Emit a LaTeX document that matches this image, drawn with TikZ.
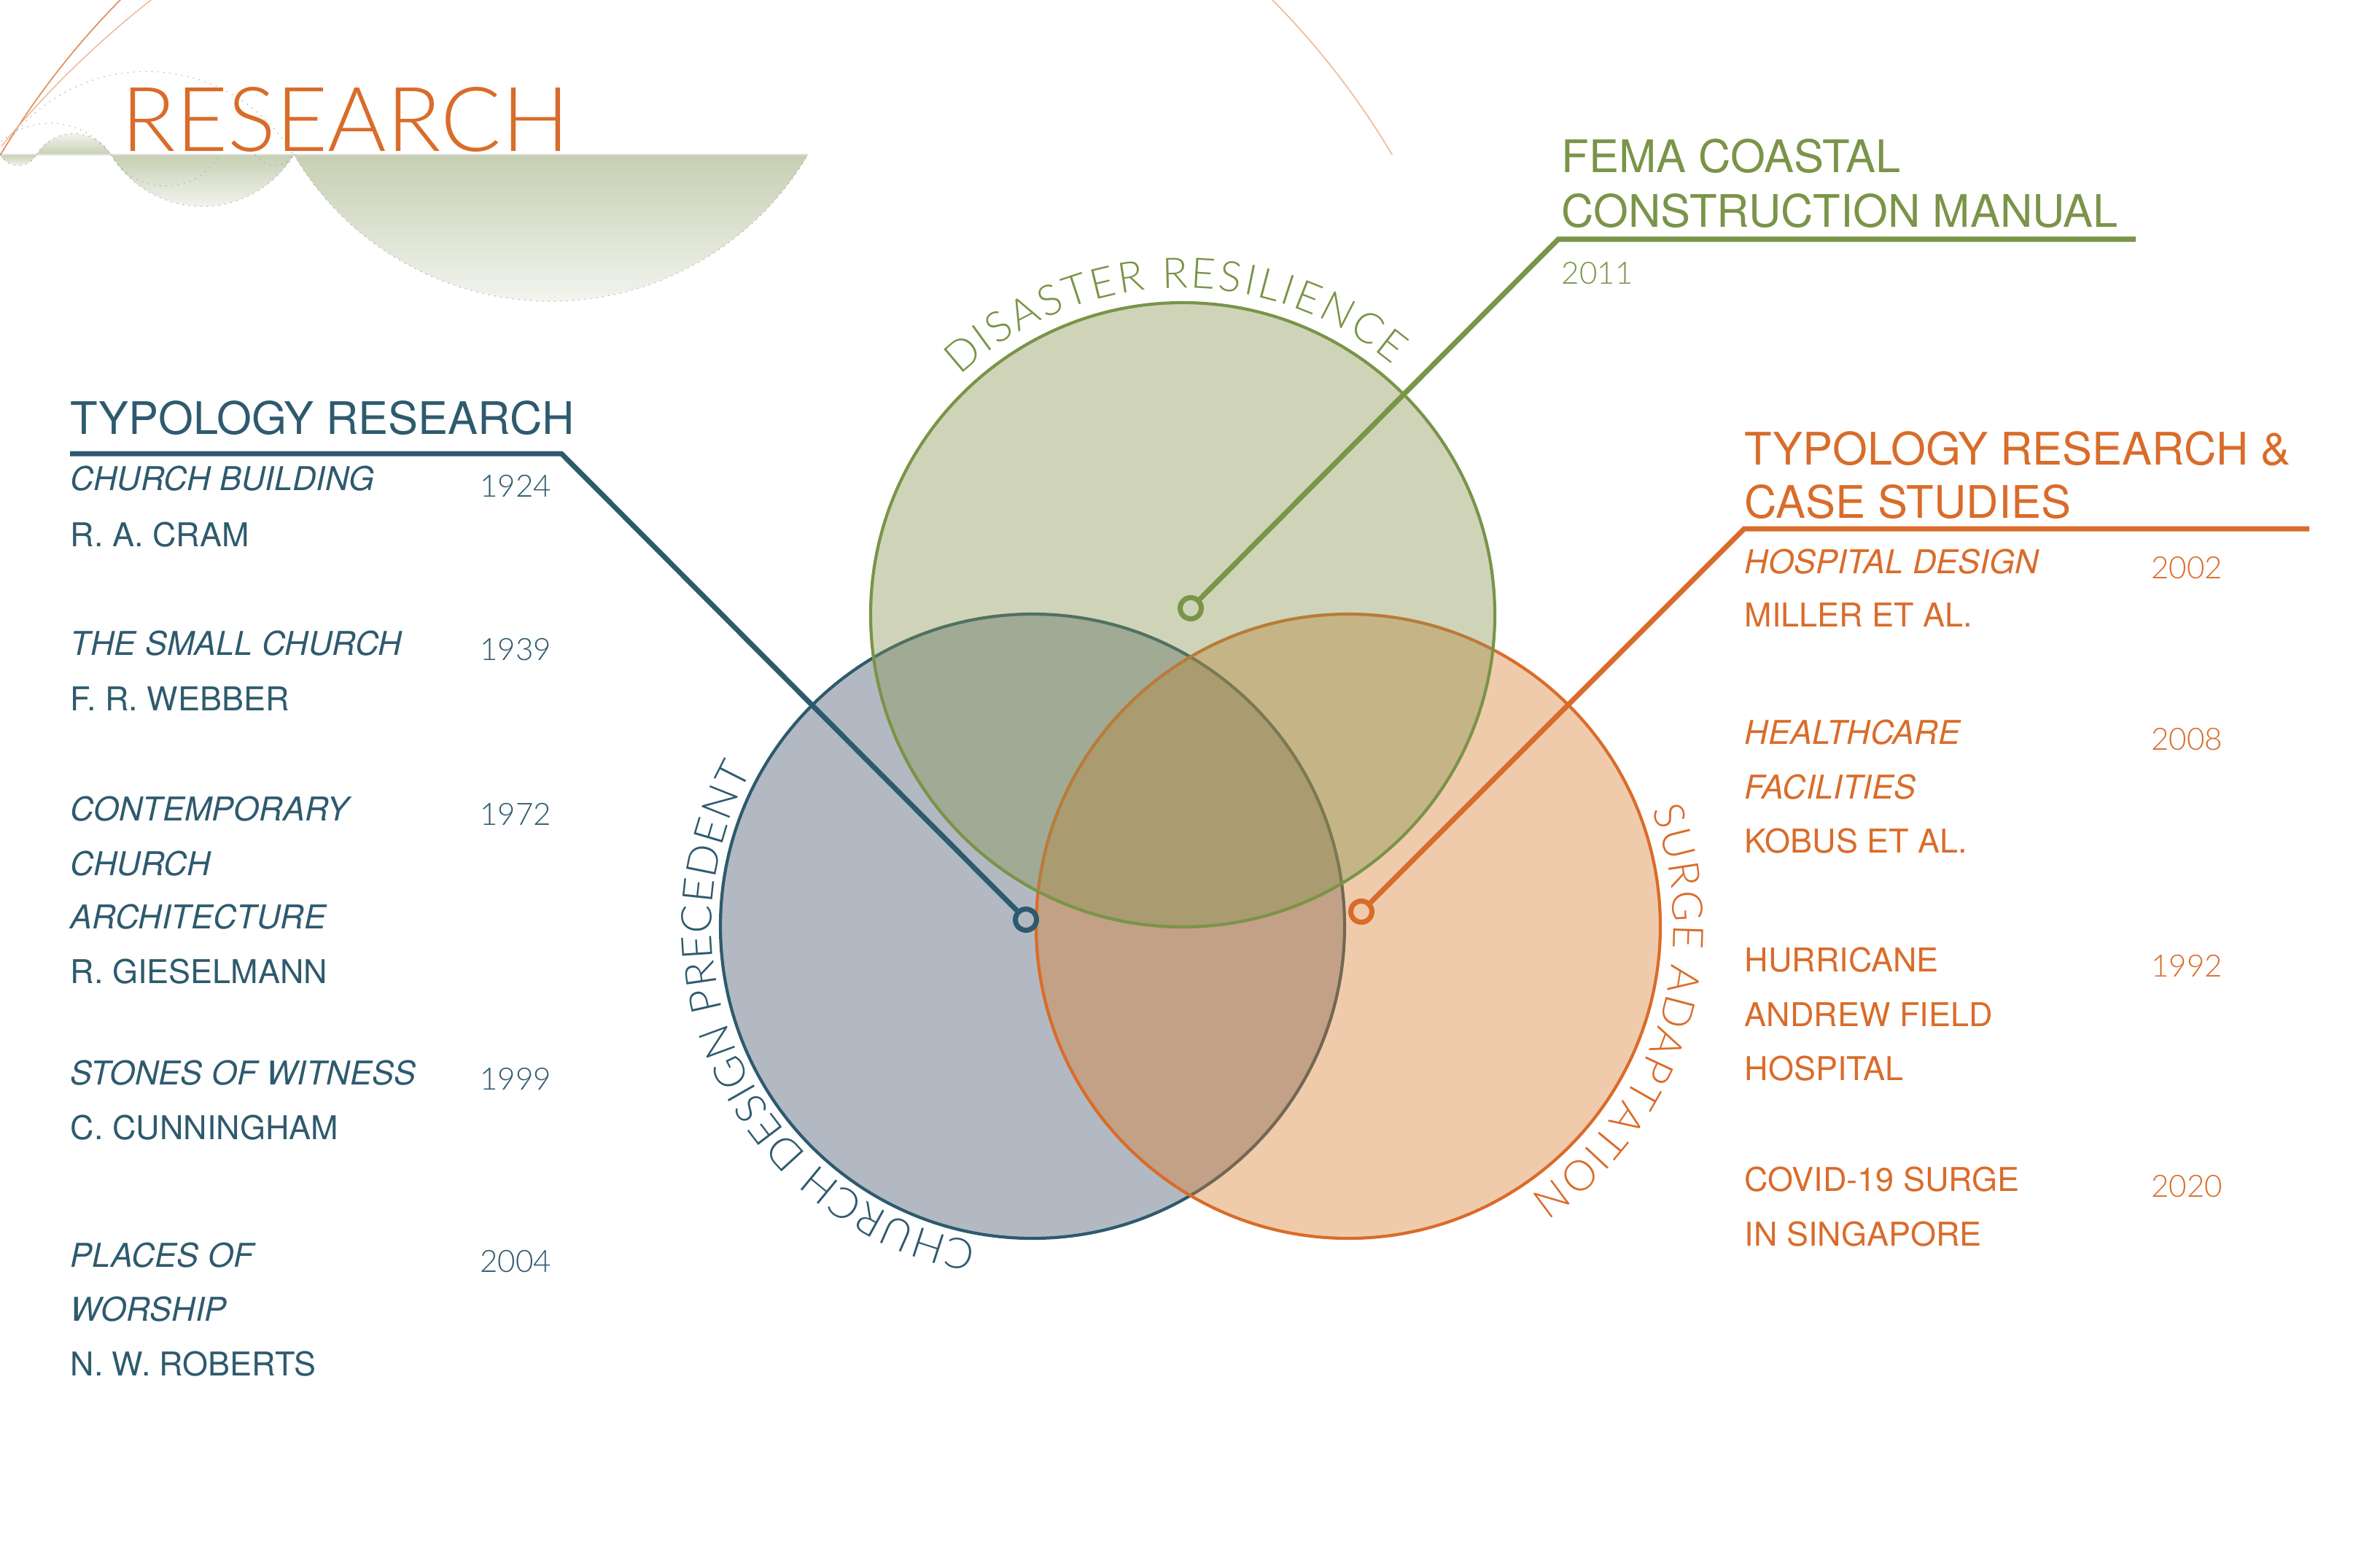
\documentclass[tikz,border=0pt]{standalone}
\usepackage{fontspec}
\setmainfont{TeX Gyre Heros}
\IfFontExistsTF{Lato Light}{\newfontfamily\thinfont{Lato Light}}{\newfontfamily\thinfont{Lato}}
\usepackage{pgf,tikz}
\usetikzlibrary{calc,backgrounds,decorations.text}

\definecolor{dblue}{HTML}{2E5A6E}
\definecolor{dgreen}{HTML}{7A9448}
\definecolor{dorange}{HTML}{D96C2A}
\definecolor{bluefill}{HTML}{3F5069}
\definecolor{greenfill}{HTML}{879450}
\definecolor{orangefill}{HTML}{D97D2D}
\definecolor{wavegreen}{HTML}{C6CFB2}

\begin{document}
\begin{tikzpicture}
  \useasboundingbox (0,0) rectangle (32.64,-21.12);

  \tikzstyle{every node}=[inner sep=0pt]
  \tikzstyle{heading}=[anchor=base west,font=\fontsize{17.5}{21}\selectfont]
  \tikzstyle{book}=[anchor=base west,font=\fontsize{12.8}{15}\selectfont\itshape]
  \tikzstyle{auth}=[anchor=base west,font=\fontsize{12.8}{15}\selectfont]
  \tikzstyle{year}=[anchor=base east,font=\thinfont\fontsize{12}{14}\selectfont]
  \tikzstyle{venn}=[circle,minimum size=8.56cm,line width=1.2pt,fill opacity=.4,draw opacity=1]
  \tikzstyle{ring}=[circle,draw,minimum size=.29cm,line width=2pt]
  \tikzstyle{lead}=[line width=2pt,line join=miter]
  \tikzstyle{arclabel}=[decorate,decoration={text along path,text align=fit to path}]
  \tikzstyle{wavedots}=[line width=.35pt,dotted,gray!70]

  %% bandeau du titre
  \begin{scope}
    \clip (0,0) rectangle (32.64,-21.12);
    \shade[top color=wavegreen,bottom color=white] (0,-2.12) arc[start angle=208,end angle=332,radius=.283] -- cycle;
    \shade[top color=white,bottom color=wavegreen] (0.50,-2.12) arc[start angle=149.3,end angle=30.7,radius=.593] -- cycle;
    \shade[top color=wavegreen,bottom color=white] (1.52,-2.12) arc[start angle=211,end angle=329,radius=1.464] -- cycle;
    \shade[top color=wavegreen,bottom color=white] (4.03,-2.12) arc[start angle=210.6,end angle=329.4,radius=4.096] -- cycle;
    \draw[gray!25,line width=.6pt] (0,-2.12) -- (11.08,-2.12);
    \draw[wavedots] (0,-2.12) arc[start angle=208,end angle=332,radius=.283];
    \draw[wavedots] (0.50,-2.12) arc[start angle=149.3,end angle=30.7,radius=.593];
    \draw[wavedots] (1.52,-2.12) arc[start angle=211,end angle=329,radius=1.464];
    \draw[wavedots] (4.03,-2.12) arc[start angle=210.6,end angle=329.4,radius=4.096];
    \draw[wavedots] (2.01,-3.32) ++(149:2.34) arc[start angle=149,end angle=31,radius=2.34];
    \draw[wavedots] (0.685,-2.705) ++(145:1.015) arc[start angle=145,end angle=35,radius=1.015];
    \draw[wavedots] (2.27,-1.68) ++(210.4:.869) arc[start angle=210.4,end angle=329.6,radius=.869];
    \draw[wavedots] (3.765,-1.96) ++(211:.309) arc[start angle=211,end angle=329,radius=.309];
    \draw[dorange!75,line width=.5pt] (9.55,-7.81) ++(149.2:11.11) arc[start angle=149.2,end angle=134,radius=11.11];
    \draw[dorange!45,line width=.5pt] (9.55,-7.81) ++(46:11.11) arc[start angle=46,end angle=30.8,radius=11.11];
    \draw[dorange!50,line width=.4pt] (10.30,-10.48) ++(140.5:13.325) arc[start angle=140.5,end angle=128,radius=13.325];
  \end{scope}
  \node[anchor=base west,font=\thinfont\fontsize{35}{40}\selectfont,text=dorange] (R0) at (1.66,-2.07) {RESEARCH};

  %% les trois cercles
  \node[venn,draw=dblue,fill=bluefill] (V1) at (14.16,-12.70) {};
  \node[venn,draw=dorange,fill=orangefill] (V3) at (18.49,-12.70) {};
  \node[venn,draw=dgreen,fill=greenfill] (V2) at (16.22,-8.43) {};

  \path[arclabel,decoration={text={|\thinfont\fontsize{16.5}{20}\selectfont|DISASTER RESILIENCE},text color=dgreen}]
    (V2.center) ++(133:4.48) arc[start angle=133,end angle=50,radius=4.48];
  \path[arclabel,decoration={text={|\thinfont\fontsize{16.5}{20}\selectfont|CHURCH DESIGN PRECEDENT},text color=dblue}]
    (V1.center) ++(260:4.40) arc[start angle=260,end angle=151,radius=4.40];
  \path[arclabel,decoration={text={|\thinfont\fontsize{16.5}{20}\selectfont|SURGE ADAPTATION},text color=dorange}]
    (V3.center) ++(21:4.46) arc[start angle=21,end angle=-56,radius=4.46];

  %% renvois
  \coordinate (U1) at (0.96,-6.22);
  \coordinate (C1) at (7.70,-6.22);
  \coordinate (U2) at (29.29,-3.28);
  \coordinate (C2) at (21.37,-3.28);
  \coordinate (U3) at (31.67,-7.25);
  \coordinate (C3) at (23.92,-7.25);
  \node[ring,draw=dblue] (D1) at (14.07,-12.61) {};
  \node[ring,draw=dgreen] (D2) at (16.33,-8.34) {};
  \node[ring,draw=dorange] (D3) at (18.67,-12.50) {};
  \draw[lead,dblue] (U1) -- (C1) -- (D1);
  \draw[lead,dgreen] (U2) -- (C2) -- (D2);
  \draw[lead,dorange] (U3) -- (C3) -- (D3);

  %% colonne gauche
  \node[heading,text=dblue] (H1) at (0.96,-5.95) {TYPOLOGY RESEARCH};
  \foreach \y/\t [count=\i] in {6.72/CHURCH BUILDING, 8.98/THE SMALL CHURCH,
    11.25/CONTEMPORARY, 12.00/CHURCH, 12.73/ARCHITECTURE,
    14.87/STONES OF WITNESS, 17.37/PLACES OF, 18.11/WORSHIP}
    \node[book,text=dblue] (L\i) at (0.96,-\y) {\t};
  \foreach \y/\t [count=\i] in {7.49/R. A. CRAM, 9.74/F. R. WEBBER,
    13.48/R. GIESELMANN, 15.62/C. CUNNINGHAM, 18.86/N. W. ROBERTS}
    \node[auth,text=dblue] (A\i) at (0.96,-\y) {\t};
  \foreach \y/\t [count=\i] in {6.81/1924, 9.05/1939, 11.31/1972, 14.94/1999, 17.44/2004}
    \node[year,text=dblue] (Y\i) at (7.57,-\y) {\t};

  %% FEMA
  \node[heading,text=dgreen] (H2) at (21.41,-2.36) {FEMA COASTAL};
  \node[heading,text=dgreen] (H3) at (21.41,-3.11) {CONSTRUCTION MANUAL};
  \node[year,anchor=base west,text=dgreen] (Y0) at (21.41,-3.89) {2011};

  %% colonne droite
  \node[heading,text=dorange] (H4) at (23.92,-6.37) {TYPOLOGY RESEARCH \&};
  \node[heading,text=dorange] (H5) at (23.92,-7.10) {CASE STUDIES};
  \foreach \y/\t [count=\i] in {7.86/HOSPITAL DESIGN, 10.20/HEALTHCARE, 10.95/FACILITIES}
    \node[book,text=dorange] (M\i) at (23.92,-\y) {\t};
  \foreach \y/\t [count=\i] in {8.59/MILLER ET AL., 11.69/KOBUS ET AL., 13.32/HURRICANE,
    14.07/ANDREW FIELD, 14.81/HOSPITAL, 16.33/COVID-19 SURGE, 17.08/IN SINGAPORE}
    \node[auth,text=dorange] (N\i) at (23.92,-\y) {\t};
  \foreach \y/\t [count=\i] in {7.93/2002, 10.28/2008, 13.39/1992, 16.41/2020}
    \node[year,text=dorange] (Z\i) at (30.49,-\y) {\t};
\end{tikzpicture}
\end{document}
